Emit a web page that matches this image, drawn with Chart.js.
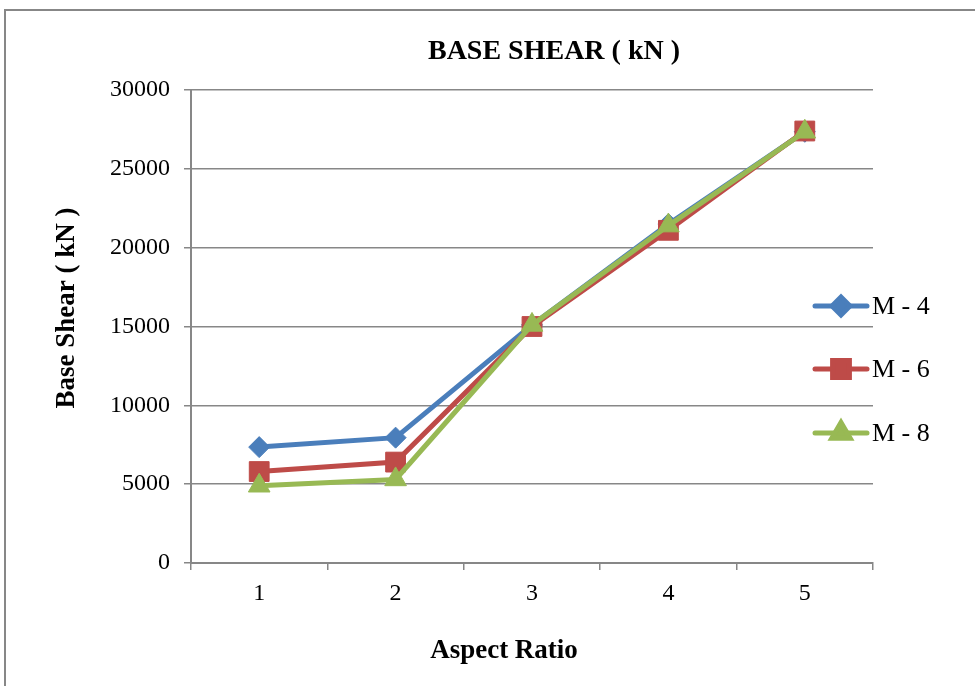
<!DOCTYPE html>
<html>
<head>
<meta charset="utf-8">
<script src="https://cdn.jsdelivr.net/npm/chart.js@4"></script>
<style>
  html, body { margin: 0; padding: 0; background: #fff; }
  #wrap { width: 975px; height: 686px; position: relative; }
</style>
</head>
<body>
<div id="wrap"><canvas id="mainChart" width="975" height="686"></canvas></div>
<script>
const categories = ['1', '2', '3', '4', '5'];
const m4 = [7350, 7950, 15100, 21500, 27350];
const m6 = [5800, 6400, 15000, 21100, 27400];
const m8 = [4900, 5300, 15100, 21400, 27350];
const yTicks = [0, 5000, 10000, 15000, 20000, 25000, 30000];

const FONT = '"Liberation Serif", "Times New Roman", serif';
const GRID = '#878787';

const series = [
    { label: 'M - 4', data: m4, color: '#4a7ebb', style: 'rectRot', radius: 10.5, order: 3 },
    { label: 'M - 6', data: m6, color: '#be4b48', style: 'rect', radius: 14, order: 2 },
    { label: 'M - 8', data: m8, color: '#98b954', style: 'triangle', radius: 12.5, order: 1 }
];

// titles, legend and frame drawn by hand
const decor = {
    id: 'decor',
    afterDraw(chart) {
        const c = chart.ctx;
        c.save();
        c.strokeStyle = GRID;
        c.lineWidth = 2;
        c.beginPath();
        c.moveTo(5, 686); c.lineTo(5, 10); c.lineTo(975, 10);
        c.stroke();

        c.fillStyle = '#000';
        c.textAlign = 'center';
        c.textBaseline = 'middle';
        c.font = 'bold 28px ' + FONT;
        c.fillText('BASE SHEAR ( kN )', 554, 52);
        c.font = 'bold 27px ' + FONT;
        c.fillText('Aspect Ratio', 504, 651);
        c.save();
        c.translate(67, 308);
        c.rotate(-Math.PI / 2);
        c.fillText('Base Shear ( kN )', 0, 0);
        c.restore();

        // legend
        const ys = [306, 369, 433];
        c.font = '26px ' + FONT;
        c.textAlign = 'left';
        chart.data.datasets.forEach((ds, i) => {
            const y = ys[i];
            c.strokeStyle = ds.borderColor;
            c.lineWidth = 5;
            c.lineCap = 'round';
            c.beginPath();
            c.moveTo(815, y); c.lineTo(867, y);
            c.stroke();
            c.fillStyle = ds.borderColor;
            Chart.helpers.drawPoint(c, { pointStyle: ds.pointStyle, radius: ds.pointRadius * 0.85, borderWidth: 1 }, 841, y);
            c.fillStyle = '#000';
            c.fillText(ds.label, 872, y + 1);
        });
        c.restore();
    }
};

const ctx = document.getElementById('mainChart').getContext('2d');

new Chart(ctx, {
    type: 'line',
    data: {
        labels: categories,
        datasets: series.map(s => ({
            label: s.label,
            data: s.data,
            borderColor: s.color,
            backgroundColor: s.color,
            borderWidth: 5,
            tension: 0,
            pointStyle: s.style,
            pointRadius: s.radius,
            pointBackgroundColor: s.color,
            pointBorderColor: s.color,
            pointBorderWidth: 1,
            order: s.order
        }))
    },
    options: {
        responsive: false,
        animation: false,
        layout: { padding: { left: 0, right: 102, top: 90, bottom: 0 } },
        plugins: { legend: { display: false }, tooltip: { enabled: false } },
        scales: {
            x: {
                offset: true,
                afterFit: s => { s.height = 123; },
                grid: { offset: true, drawOnChartArea: false, color: GRID, lineWidth: 1.5, tickLength: 7 },
                border: { color: GRID, width: 2 },
                ticks: { color: '#000', font: { family: FONT, size: 24 }, padding: 9 }
            },
            y: {
                min: 0,
                max: 30000,
                afterFit: s => { s.width = 191; },
                afterBuildTicks: s => { s.ticks = yTicks.map(v => ({ value: v })); },
                grid: { color: GRID, lineWidth: 1.5, tickLength: 7 },
                border: { color: GRID, width: 2 },
                ticks: { color: '#000', font: { family: FONT, size: 24 }, padding: 14, callback: v => String(v) }
            }
        }
    },
    plugins: [decor]
});
</script>
</body>
</html>
